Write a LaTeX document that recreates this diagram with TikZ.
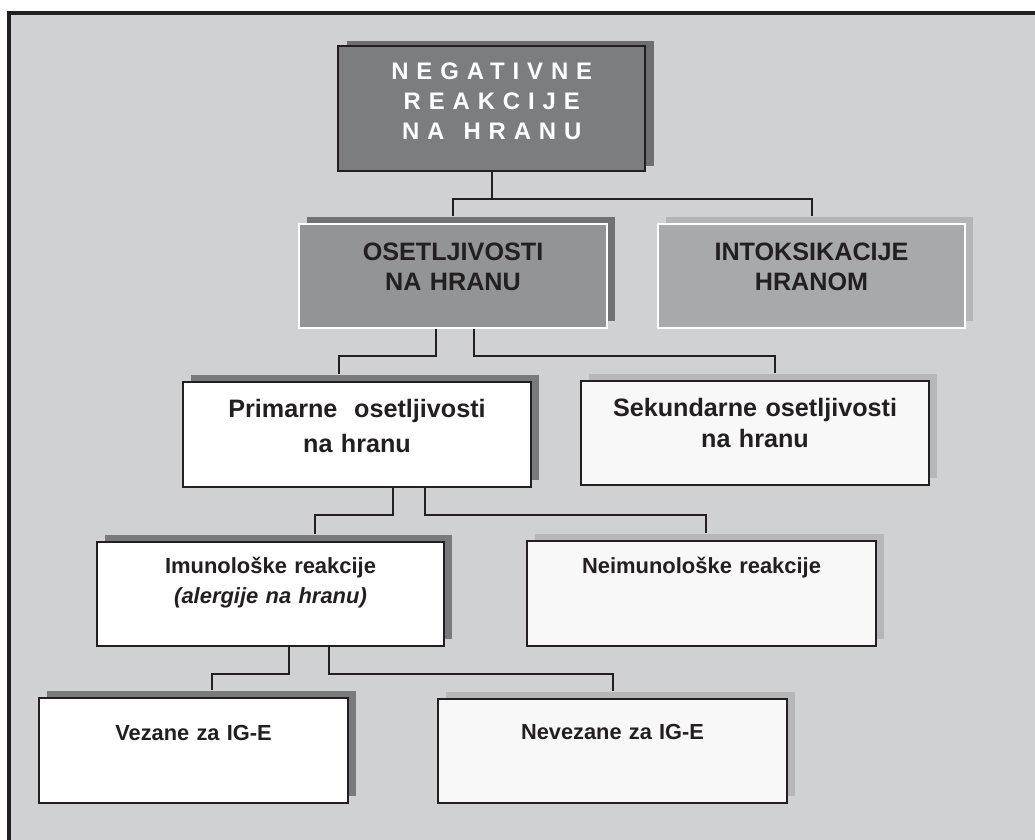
\documentclass[tikz,border=0pt]{standalone}
\usepackage{fontspec}
\setmainfont{Liberation Sans}
\newfontfamily\spacedfont[LetterSpace=33]{Liberation Sans}
\usepackage{tikz}
\usetikzlibrary{shadows}

\definecolor{panelGray}{HTML}{D0D1D3}
\definecolor{inkBlack}{HTML}{231F20}
\definecolor{topGray}{HTML}{7C7D7F}
\definecolor{topShade}{HTML}{6D6E70}
\definecolor{midGray}{HTML}{939496}
\definecolor{midShade}{HTML}{707173}
\definecolor{softGray}{HTML}{A8A9AB}
\definecolor{softShade}{HTML}{B4B5B7}
\definecolor{paperWhite}{HTML}{F8F8F8}
\definecolor{darkShade}{HTML}{797A7C}
\definecolor{lightShade}{HTML}{B6B7B9}

\tikzstyle{box} = [rectangle, anchor=north west, inner sep=0pt, align=center, text=inkBlack, line width=1.4pt]
\tikzstyle{topbox} = [box, fill=topGray, draw=inkBlack, line width=1.7pt, text=white,
  general shadow={fill=topShade, shadow xshift=0.22cm, shadow yshift=0.14cm}]
\tikzstyle{midbox} = [box, fill=midGray, draw=white,
  general shadow={fill=midShade, shadow xshift=0.21cm, shadow yshift=0.165cm}]
\tikzstyle{softbox} = [box, fill=softGray, draw=white,
  general shadow={fill=softShade, shadow xshift=0.21cm, shadow yshift=0.165cm}]
\tikzstyle{whitebox} = [box, fill=white, draw=inkBlack,
  general shadow={fill=darkShade, shadow xshift=0.21cm, shadow yshift=0.165cm}]
\tikzstyle{paperbox} = [box, fill=paperWhite, draw=inkBlack,
  general shadow={fill=lightShade, shadow xshift=0.21cm, shadow yshift=0.165cm}]
\tikzstyle{link} = [draw=inkBlack, line width=1.4pt]

\begin{document}
\begin{tikzpicture}[x=0.025cm, y=-0.025cm]

\useasboundingbox (0,0) rectangle (1035,840);
\fill[white] (0,0) rectangle (1035,840);
\clip (0,0) rectangle (1035,840);
\fill[panelGray] (9,13) rectangle (1050,860);
\draw[inkBlack, line width=2.2pt] (9,13) rectangle (1050,860);

% first level
\node (neg) [topbox, text width=7.675cm, text height=0.825cm, text depth=2.3cm,
  font=\spacedfont\bfseries\fontsize{17}{21.3}\selectfont] at (337,45)
  {NEGATIVNE\\ REAKCIJE\\ NA\hspace{0.8em}HRANU};

% second level
\node (oset) [midbox, text width=7.7cm, text height=0.925cm, text depth=1.675cm,
  font=\fontsize{17.9}{21.3}\selectfont\bfseries] at (298,223)
  {OSETLJIVOSTI\\ NA HRANU};
\node (intox) [softbox, text width=7.675cm, text height=0.925cm, text depth=1.675cm,
  font=\fontsize{17.9}{21.3}\selectfont\bfseries] at (657,223)
  {INTOKSIKACIJE\\ HRANOM};

% third level
\node (prim) [whitebox, text width=8.7cm, text height=0.9cm, text depth=1.725cm,
  font=\fontsize{17.9}{24.7}\selectfont\bfseries] at (182,381)
  {Primarne\ \ osetljivosti\\ na hranu};
\node (sek) [paperbox, text width=8.7cm, text height=0.9cm, text depth=1.7cm,
  font=\fontsize{17.9}{21.8}\selectfont\bfseries] at (580,380)
  {Sekundarne osetljivosti\\ na hranu};

% fourth level
\node (imun) [whitebox, text width=8.675cm, text height=0.8cm, text depth=1.8cm,
  font=\fontsize{15.6}{21.3}\selectfont\bfseries] at (96,541)
  {Imunološke reakcije\\ \itshape (alergije na hranu)};
\node (neim) [paperbox, text width=8.725cm, text height=0.825cm, text depth=1.8cm,
  font=\fontsize{15.6}{21.3}\selectfont\bfseries] at (526,540)
  {Neimunološke reakcije};

% fifth level
\node (vez) [whitebox, text width=7.725cm, text height=1.075cm, text depth=1.55cm,
  font=\fontsize{15.5}{21.3}\selectfont\bfseries] at (38,697)
  {Vezane za IG-E};
\node (nevez) [paperbox, text width=8.725cm, text height=1.025cm, text depth=1.575cm,
  font=\fontsize{15.5}{21.3}\selectfont\bfseries] at (437,698)
  {Nevezane za IG-E};

% connectors
\draw[link] (neg.south) -- ++(0,27) coordinate (split) -| ([yshift=0.165cm]oset.north);
\draw[link] (split) -| ([yshift=0.165cm]intox.north);
\draw[link] ([xshift=-0.425cm]oset.south) -- ++(0,27) -| ([xshift=-0.45cm,yshift=0.165cm]prim.north);
\draw[link] ([xshift=0.525cm]oset.south) -- ++(0,27) -| ([xshift=0.5cm,yshift=0.165cm]sek.north);
\draw[link] ([xshift=0.9cm]prim.south) -- ++(0,27) -| ([xshift=1.11cm,yshift=0.165cm]imun.north);
\draw[link] ([xshift=1.7cm]prim.south) -- ++(0,27) -| ([xshift=0.11cm,yshift=0.165cm]neim.north);
\draw[link] ([xshift=0.46cm]imun.south) -- ++(0,27) -| ([xshift=0.46cm,yshift=0.165cm]vez.north);
\draw[link] ([xshift=1.46cm]imun.south) -- ++(0,27) -| ([yshift=0.165cm]nevez.north);

\end{tikzpicture}
\end{document}
